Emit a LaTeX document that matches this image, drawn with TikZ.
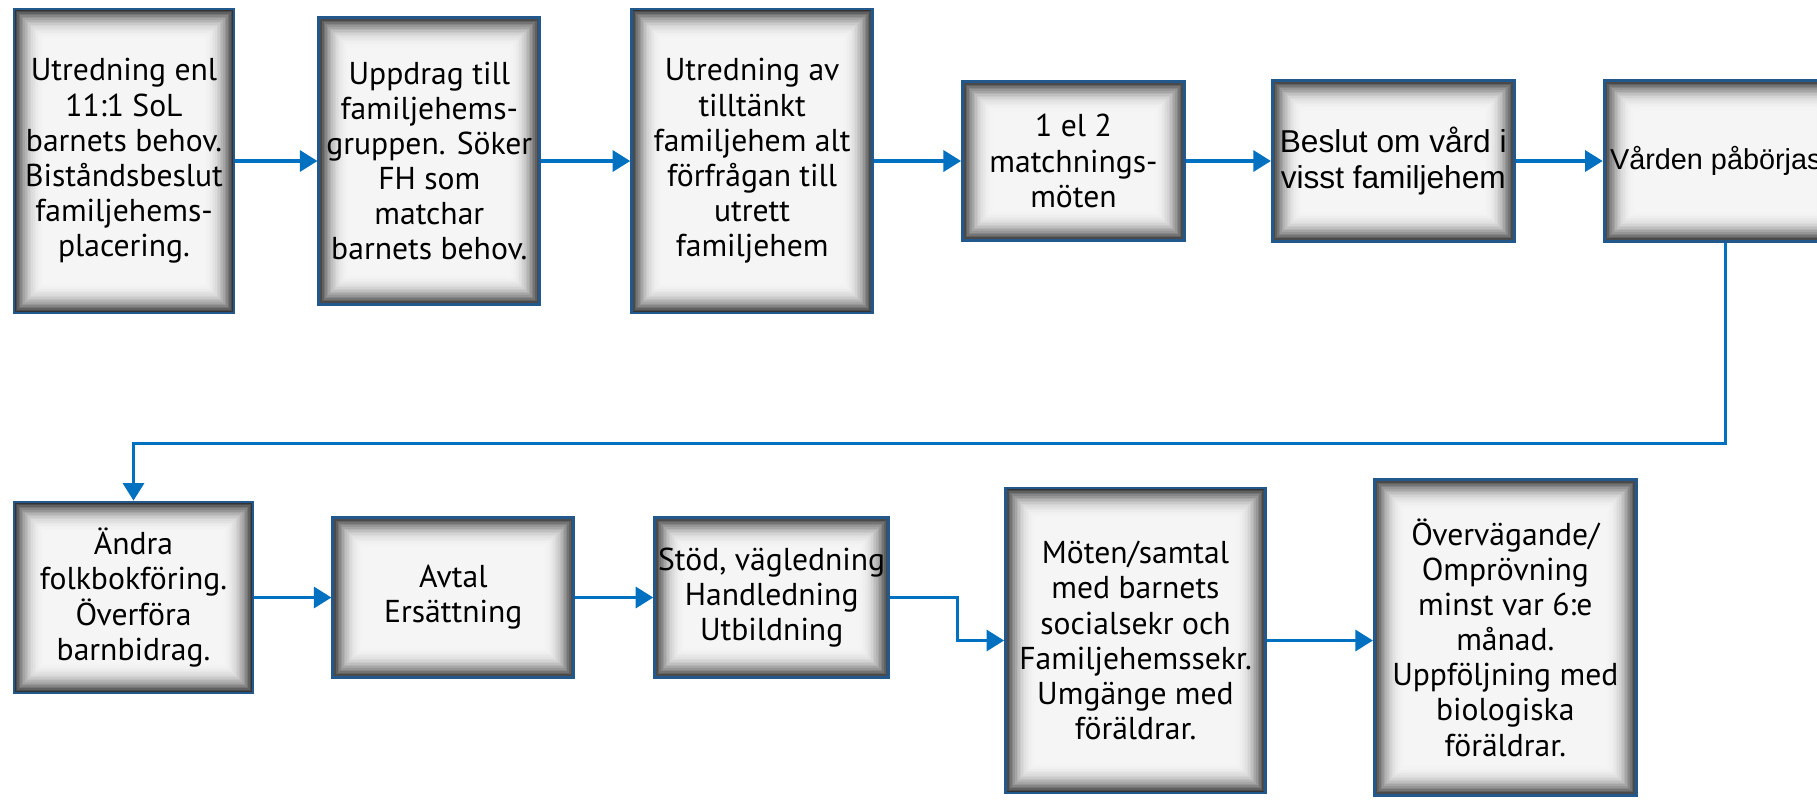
\documentclass[tikz,border=0pt]{standalone}
\usepackage{fontspec}
\setmainfont{PT Sans}
\newfontfamily\arialfont{Liberation Sans}
\usetikzlibrary{positioning,arrows.meta}
\definecolor{boxblue}{RGB}{34,88,140}
\definecolor{flowblue}{RGB}{0,112,192}

\begin{document}
\begin{tikzpicture}[node distance=0.86cm,
    box/.style={rectangle, draw=boxblue, line width=0.8pt, fill=black!80, align=center, inner sep=1pt,
        font=\fontsize{9}{10}\selectfont,
        path picture={
            \foreach \k in {0,...,20}{
                \pgfmathsetmacro{\tone}{4+76*(1-\k/20)^2.5}
                \fill[black!\tone] ([shift={(\k*0.45pt,\k*0.45pt)}]path picture bounding box.south west)
                    rectangle ([shift={(-\k*0.45pt,-\k*0.45pt)}]path picture bounding box.north east);
            }
        }},
    flow/.style={-{Triangle[length=5pt, width=6pt]}, line width=0.9pt, draw=flowblue}]

\useasboundingbox (0,0) rectangle (18.17,-7.99);
\clip (0,0) rectangle (18.17,-7.99);

% Top row
\node[box, minimum width=2.20cm, minimum height=3.04cm] (utredning) at (1.24,-1.61)
    {Utredning enl\\11:1 SoL\\barnets behov.\\Biståndsbeslut\\familjehems-\\placering.};
\node[box, right=0.82cm of utredning, minimum width=2.21cm, minimum height=2.87cm] (uppdrag)
    {Uppdrag till\\familjehems-\\gruppen. Söker\\FH som\\matchar\\barnets behov.};
\node[box, right=0.89cm of uppdrag, minimum width=2.41cm, minimum height=3.04cm] (tilltankt)
    {Utredning av\\tilltänkt\\familjehem alt\\förfrågan till\\utrett\\familjehem};
\node[box, right=0.87cm of tilltankt, minimum width=2.22cm, minimum height=1.59cm] (matchning)
    {1 el 2\\matchnings-\\möten};
\node[box, right=0.85cm of matchning, minimum width=2.42cm, minimum height=1.61cm, font=\arialfont\fontsize{9}{10}\selectfont] (beslut)
    {Beslut om vård i\\visst familjehem};
\node[box, right=0.87cm of beslut, minimum width=2.42cm, minimum height=1.61cm, font=\arialfont\fontsize{8.2}{10}\selectfont] (varden)
    {\makebox[2.3cm][l]{Vården påbörjas}};

% Bottom row
\node[box, minimum width=2.39cm, minimum height=1.91cm] (folkbok) at (1.335,-5.975)
    {Ändra\\folkbokföring.\\Överföra\\barnbidrag.};
\node[box, right=0.77cm of folkbok, minimum width=2.41cm, minimum height=1.60cm] (avtal)
    {Avtal\\Ersättning};
\node[box, right=0.78cm of avtal, minimum width=2.34cm, minimum height=1.60cm] (stod)
    {Stöd, vägledning\\Handledning\\Utbildning};
\node[box, right=1.14cm of stod, yshift=-0.43cm, minimum width=2.60cm, minimum height=3.05cm] (moten)
    {Möten/samtal\\med barnets\\socialsekr och\\Familjehemssekr.\\Umgänge med\\föräldrar.};
\node[box, right=1.06cm of moten, yshift=0.03cm, minimum width=2.62cm, minimum height=3.16cm] (omprovning)
    {Övervägande/\\Omprövning\\minst var 6:e\\månad.\\Uppföljning med\\biologiska\\föräldrar.};

% Connections
\coordinate[above=0.57cm of folkbok.north] (turn);

\draw[flow] (utredning) -- (uppdrag);
\draw[flow] (uppdrag) -- (tilltankt);
\draw[flow] (tilltankt) -- (matchning);
\draw[flow] (matchning) -- (beslut);
\draw[flow] (beslut) -- (varden);
\draw[flow] (varden.south) |- (turn) -- (folkbok.north);
\draw[flow] (folkbok) -- (avtal);
\draw[flow] (avtal) -- (stod);
\draw[flow] (stod.east) -- ++(0.67,0) |- (moten.west);
\draw[flow] (moten.east) -- (moten.east -| omprovning.west);

\end{tikzpicture}
\end{document}
